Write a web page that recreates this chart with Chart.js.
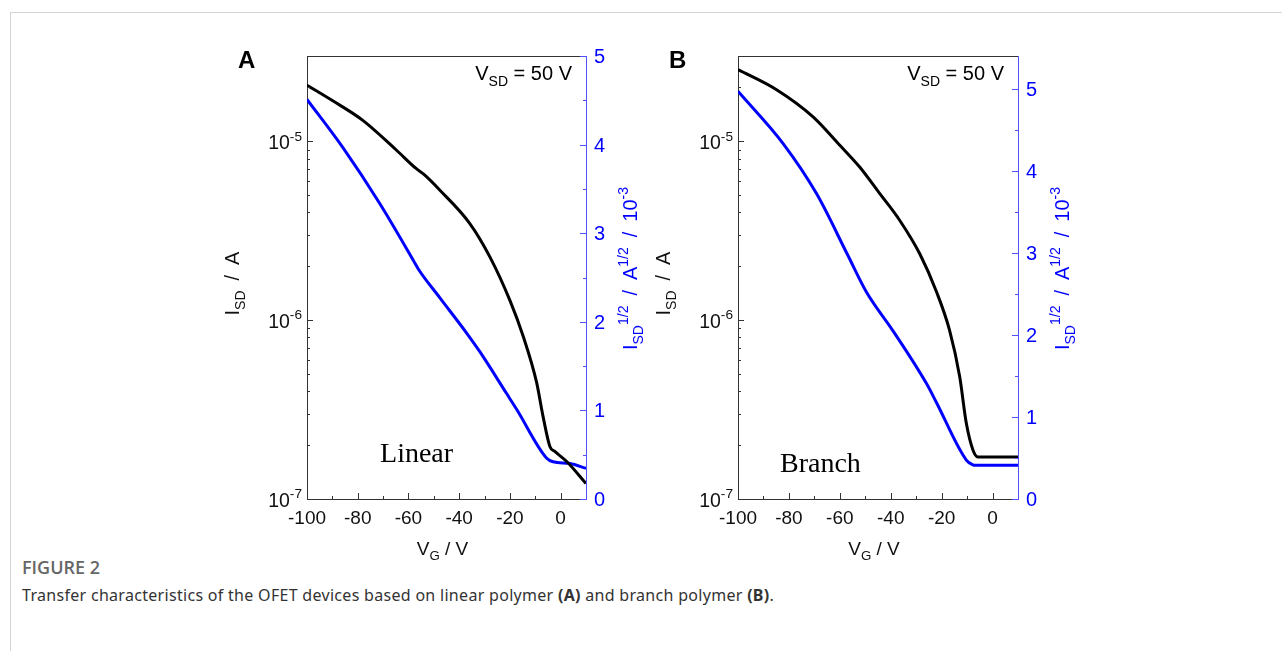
<!DOCTYPE html>
<html>
<head>
<meta charset="utf-8">
<script src="https://cdn.jsdelivr.net/npm/chart.js@4.4.1/dist/chart.umd.min.js"></script>
<style>
  body { margin: 0; background: #fff; width: 1282px; height: 651px; overflow: hidden; position: relative; }
  #frame { position: absolute; left: 10px; top: 12px; width: 1290px; height: 700px; border-left: 1px solid #d4d4d4; border-top: 1px solid #d4d4d4; }
  canvas { position: absolute; top: 30px; }
  #figtitle { position: absolute; left: 22px; top: 555px; font: 600 18px "Open Sans", sans-serif; color: #666; }
  #figcap { position: absolute; left: 22px; top: 584px; font: 16px "Noto Sans", sans-serif; color: #333; letter-spacing: 0.3px; }
</style>
</head>
<body>
<div id="frame"></div>
<canvas id="panelA" width="470" height="540" style="left:200px"></canvas>
<canvas id="panelB" width="470" height="540" style="left:630px"></canvas>
<div id="figtitle">FIGURE 2</div>
<div id="figcap">Transfer characteristics of the OFET devices based on linear polymer <b>(A)</b> and branch polymer <b>(B)</b>.</div>
<script>
// Panel A - linear polymer
const vgLinI = [-100, -90, -78, -65, -57, -54, -47.6, -35.8, -27.9, -20, -14.7, -9.5, -6.9, -4.2, -2.2, 2.4, 10];
const isdLin = [2.06e-5, 1.69e-5, 1.31e-5, 9.0e-6, 7.05e-6, 6.55e-6, 5.33e-6, 3.47e-6, 2.26e-6, 1.29e-6, 8.07e-7, 4.5e-7, 2.88e-7, 1.96e-7, 1.84e-7, 1.62e-7, 1.22e-7];
const vgLinS = [-100, -85.7, -71.2, -58, -56, -47.6, -37, -31.8, -21.3, -17.3, -5.5, -3, 3.7, 10];
const sqrtLin = [4.51, 3.96, 3.33, 2.69, 2.59, 2.27, 1.87, 1.66, 1.19, 1.01, 0.46, 0.42, 0.40, 0.345];

// Panel B - branch polymer
const vgBrI = [-100, -85, -70.5, -60, -52.2, -44.3, -36.5, -28.6, -22.1, -16.9, -12.9, -10.3, -7.7, -5.8, 10];
const isdBr = [2.52e-5, 1.95e-5, 1.37e-5, 9.5e-6, 7.18e-6, 5.1e-6, 3.62e-6, 2.35e-6, 1.45e-6, 8.79e-7, 4.82e-7, 2.65e-7, 1.88e-7, 1.72e-7, 1.72e-7];
const vgBrS = [-100, -82.2, -69.1, -57, -49.5, -39.1, -26, -22.1, -10.3, -8, -6.4, 10];
const sqrtBr = [4.97, 4.33, 3.72, 2.98, 2.52, 2.05, 1.41, 1.18, 0.474, 0.42, 0.41, 0.41];

// ticks
const xMajor = [-100, -80, -60, -40, -20, 0];
const xMinor = [-90, -70, -50, -30, -10, 10];
const logMajor = [1e-7, 1e-6, 1e-5];
const logLabels = ["-7", "-6", "-5"];
const logMinor = [2e-7, 3e-7, 4e-7, 5e-7, 6e-7, 7e-7, 8e-7, 9e-7, 2e-6, 3e-6, 4e-6, 5e-6, 6e-6, 7e-6, 8e-6, 9e-6, 2e-5, 3e-5];
const rMajor = [0, 1, 2, 3, 4, 5];
const rMinor = [0.5, 1.5, 2.5, 3.5, 4.5, 5.5];

const BLUE = "#0000ff";
const SANS = '"Liberation Sans", Arial, sans-serif';
const SP = "\u2002";

function pts(xs, ys) {
  return xs.map((x, i) => ({ x: x, y: ys[i] }));
}

// texto en trozos: [texto, 0 normal | 1 sub | 2 sup]
function rich(ctx, parts, x, y, size, align) {
  const small = size * 0.7;
  let w = 0;
  parts.forEach(p => {
    ctx.font = (p[1] ? small : size) + "px " + SANS;
    w += ctx.measureText(p[0]).width;
  });
  let cx = align === "center" ? x - w / 2 : align === "right" ? x - w : x;
  ctx.textAlign = "left";
  ctx.textBaseline = "alphabetic";
  parts.forEach(p => {
    ctx.font = (p[1] ? small : size) + "px " + SANS;
    const dy = p[1] === 1 ? size * 0.28 : p[1] === 2 ? -size * 0.45 : 0;
    ctx.fillText(p[0], cx, y + dy);
    cx += ctx.measureText(p[0]).width;
  });
}

function crearPanel(id, cfg) {
  const decor = {
    id: "decor",
    afterDraw(chart) {
      const ctx = chart.ctx;
      const a = chart.chartArea;
      const sx = chart.scales.x, sy = chart.scales.y, sr = chart.scales.y2;
      ctx.save();
      // marco superior
      ctx.strokeStyle = "#333";
      ctx.lineWidth = 1;
      ctx.beginPath();
      ctx.moveTo(a.left, a.top + 0.5);
      ctx.lineTo(a.right, a.top + 0.5);
      ctx.stroke();

      // ticks hacia adentro
      ctx.beginPath();
      xMajor.forEach(v => { const p = Math.round(sx.getPixelForValue(v)) + 0.5; ctx.moveTo(p, a.bottom); ctx.lineTo(p, a.bottom - 6); });
      xMinor.forEach(v => { const p = Math.round(sx.getPixelForValue(v)) + 0.5; if (p < a.right - 1) { ctx.moveTo(p, a.bottom); ctx.lineTo(p, a.bottom - 3); } });
      logMajor.forEach(v => { const p = Math.round(sy.getPixelForValue(v)) + 0.5; ctx.moveTo(a.left, p); ctx.lineTo(a.left + 6, p); });
      logMinor.forEach(v => { const p = Math.round(sy.getPixelForValue(v)) + 0.5; ctx.moveTo(a.left, p); ctx.lineTo(a.left + 3, p); });
      ctx.stroke();

      ctx.strokeStyle = "#5050ff";
      ctx.beginPath();
      rMajor.forEach(v => { if (v <= sr.max) { const p = Math.round(sr.getPixelForValue(v)) + 0.5; ctx.moveTo(a.right, p); ctx.lineTo(a.right - 6, p); } });
      rMinor.forEach(v => { if (v <= sr.max) { const p = Math.round(sr.getPixelForValue(v)) + 0.5; ctx.moveTo(a.right, p); ctx.lineTo(a.right - 3, p); } });
      ctx.stroke();

      // etiquetas de ticks
      ctx.fillStyle = "#111";
      xMajor.forEach(v => rich(ctx, [[String(v), 0]], sx.getPixelForValue(v), a.bottom + 25, 19, "center"));
      logMajor.forEach((v, i) => rich(ctx, [["10", 0], [logLabels[i], 2]], a.left - 5, sy.getPixelForValue(v) + 8, 19.5, "right"));
      ctx.fillStyle = BLUE;
      rMajor.forEach(v => { if (v <= sr.max) rich(ctx, [[String(v), 0]], a.right + 8, sr.getPixelForValue(v) + 7, 20, "left"); });

      // titulos de ejes
      ctx.fillStyle = "#111";
      rich(ctx, [["V", 0], ["G", 1], [" / V", 0]], (a.left + a.right) / 2 - 4, a.bottom + 56, 19, "center");
      ctx.save();
      ctx.translate(cfg.leftTitleX, (a.top + a.bottom) / 2 + 6);
      ctx.rotate(-Math.PI / 2);
      rich(ctx, [["I", 0], ["SD", 1], [SP + "/" + SP + "A", 0]], 0, 7, 20, "center");
      ctx.restore();
      ctx.save();
      ctx.fillStyle = BLUE;
      ctx.translate(a.right + 44, (a.top + a.bottom) / 2 - 9);
      ctx.rotate(-Math.PI / 2);
      rich(ctx, [["I", 0], ["SD", 1], ["1/2", 2], [SP + "/" + SP + "A", 0], ["1/2", 2], [SP + "/" + SP + "10", 0], ["-3", 2]], 0, 7, 20, "center");
      ctx.restore();

      // letra del panel y anotaciones
      ctx.fillStyle = "#000";
      ctx.font = "bold 24px " + SANS;
      ctx.textAlign = "left";
      ctx.fillText(cfg.letter, a.left - 69, a.top + 12);
      rich(ctx, [["V", 0], ["SD", 1], [" = 50 V", 0]], a.right - 14, a.top + 24, 20, "right");
      ctx.font = '28px "Liberation Serif", "Times New Roman", serif';
      ctx.fillText(cfg.name, sx.getPixelForValue(cfg.nameX), sy.getPixelForValue(cfg.nameY));
      ctx.restore();
    }
  };

  return new Chart(document.getElementById(id).getContext("2d"), {
    type: "line",
    data: {
      datasets: [
        { data: pts(cfg.vgI, cfg.isd), yAxisID: "y", borderColor: "#000", borderWidth: 3, pointRadius: 0, cubicInterpolationMode: "monotone" },
        { data: pts(cfg.vgS, cfg.sq), yAxisID: "y2", borderColor: BLUE, borderWidth: 3, pointRadius: 0, cubicInterpolationMode: "monotone" }
      ]
    },
    options: {
      responsive: false,
      animation: false,
      layout: { padding: { top: 26, left: 0, right: 0, bottom: 0 } },
      plugins: { legend: { display: false }, tooltip: { enabled: false } },
      scales: {
        x: { type: "linear", min: -100, max: 10, ticks: { display: false }, grid: { display: false },
             border: { color: "#333", width: 1 }, afterFit: s => { s.height = 71; } },
        y: { type: "logarithmic", position: "left", min: 1e-7, max: 3e-5, ticks: { display: false }, grid: { display: false },
             border: { color: "#333", width: 1 }, afterFit: s => { s.width = cfg.leftW; } },
        y2: { type: "linear", position: "right", min: 0, max: cfg.rMax, ticks: { display: false }, grid: { display: false },
              border: { color: "#5050ff", width: 1 }, afterFit: s => { s.width = cfg.rightW; } }
      }
    },
    plugins: [decor]
  });
}

crearPanel("panelA", { vgI: vgLinI, isd: isdLin, vgS: vgLinS, sq: sqrtLin, rMax: 5, leftW: 107, rightW: 84,
  letter: "A", name: "Linear", nameX: -71.2, nameY: 1.61e-7, leftTitleX: 32 });
crearPanel("panelB", { vgI: vgBrI, isd: isdBr, vgS: vgBrS, sq: sqrtBr, rMax: 5.4, leftW: 108, rightW: 82,
  letter: "B", name: "Branch", nameX: -83.5, nameY: 1.415e-7, leftTitleX: 33 });
</script>
</body>
</html>
